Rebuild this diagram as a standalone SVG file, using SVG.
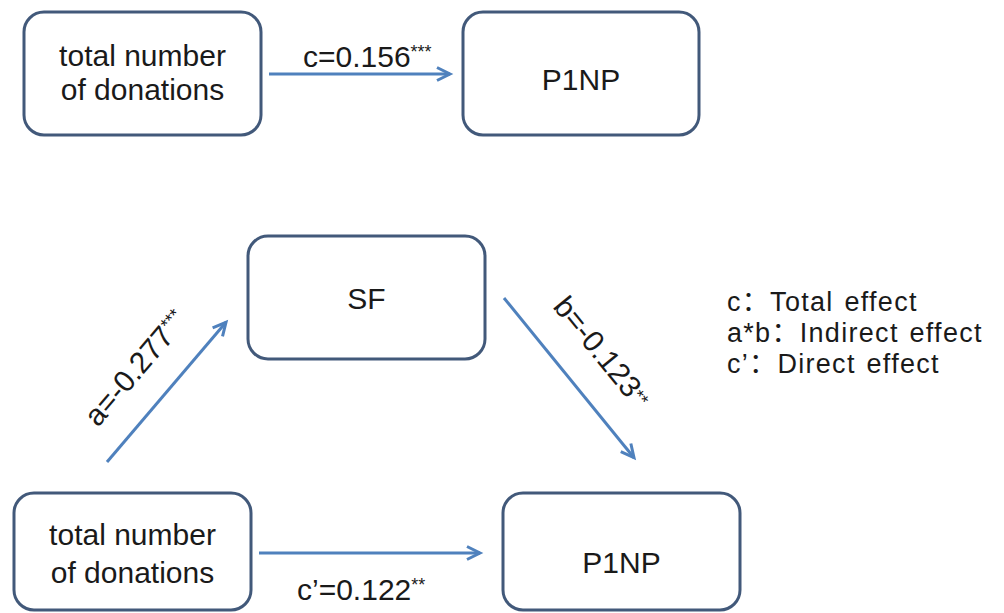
<svg xmlns="http://www.w3.org/2000/svg" width="1004" height="613" viewBox="0 0 1004 613">
  <defs>
    <style>
      .box { fill: #ffffff; stroke: #42597a; stroke-width: 3; }
      .lbl { font-family: "Liberation Sans", Arial, sans-serif; font-size: 30px; fill: #1a1a1a; }
      .mid { text-anchor: middle; }
      .legend { font-family: "Liberation Sans", "Noto Sans CJK SC", sans-serif; font-size: 27px; fill: #1a1a1a; letter-spacing: 1.3px; word-spacing: 2px; }
      .edge { fill: none; stroke: #4f81bd; stroke-width: 3; marker-end: url(#ah); }
      .sup { font-size: 18px; }
    </style>
    <marker id="ah" markerWidth="22" markerHeight="20" refX="15" refY="8" orient="auto" markerUnits="userSpaceOnUse">
      <path d="M2,1.5 L15,8 L2,14.5" fill="none" stroke="#4f81bd" stroke-width="3"/>
    </marker>
  </defs>
  <rect width="1004" height="613" fill="#ffffff"/>

  <!-- total effect model -->
  <g id="donations-top">
    <rect class="box" x="24" y="12" width="237" height="123" rx="20"/>
    <text class="lbl mid" x="142.5" y="66">total number</text>
    <text class="lbl mid" x="142.5" y="100">of donations</text>
  </g>
  <g id="p1np-top">
    <rect class="box" x="463" y="12" width="236" height="123" rx="20"/>
    <text class="lbl mid" x="581" y="90">P1NP</text>
  </g>

  <!-- mediation model -->
  <g id="sf">
    <rect class="box" x="248" y="236" width="237" height="123" rx="20"/>
    <text class="lbl mid" x="366.5" y="309">SF</text>
  </g>
  <g id="donations-bottom">
    <rect class="box" x="14" y="493" width="237" height="117" rx="20"/>
    <text class="lbl mid" x="132.5" y="545">total number</text>
    <text class="lbl mid" x="132.5" y="583">of donations</text>
  </g>
  <g id="p1np-bottom">
    <rect class="box" x="503" y="493" width="237" height="117" rx="20"/>
    <text class="lbl mid" x="621.5" y="573">P1NP</text>
  </g>

  <g id="connectors">
    <line class="edge" x1="269" y1="74" x2="450" y2="74"/>
    <line class="edge" x1="107" y1="462" x2="226" y2="322.3"/>
    <line class="edge" x1="504" y1="298" x2="634" y2="457.7"/>
    <line class="edge" x1="259" y1="553" x2="480" y2="553"/>

    <text class="lbl" x="303" y="67">c=0.156<tspan class="sup" dy="-9">***</tspan></text>
    <text class="lbl" transform="translate(98,428) rotate(-49.6)">a=-0.277<tspan class="sup" dy="-9">***</tspan></text>
    <text class="lbl" transform="translate(552,307) rotate(50.8)">b=-0.123<tspan class="sup" dy="-5">**</tspan></text>
    <text class="lbl" x="297" y="600">c’=0.122<tspan class="sup" dy="-9">**</tspan></text>
  </g>

  <g id="legend">
    <text class="legend" x="727" y="311">c：Total effect</text>
    <text class="legend" x="727" y="342">a*b：Indirect effect</text>
    <text class="legend" x="727" y="373">c’：Direct effect</text>
  </g>
</svg>
